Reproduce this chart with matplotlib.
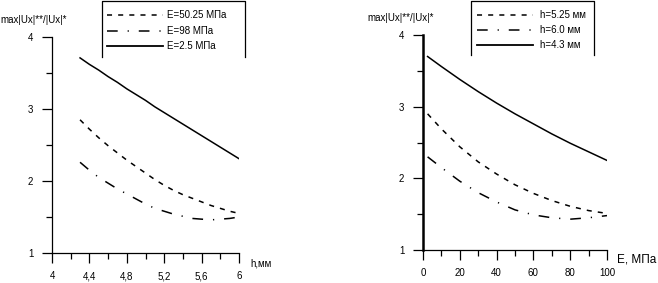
import matplotlib
matplotlib.use("Agg")
import matplotlib.pyplot as plt
from matplotlib.lines import Line2D
from matplotlib.ticker import MultipleLocator, FixedLocator

plt.rcParams['font.family'] = ['Liberation Sans', 'DejaVu Sans']

# ---- left chart data: ratio vs h (mm) ----
h_vals = [4.3, 4.4, 4.5, 4.6, 4.7, 4.8, 4.9, 5.0, 5.1, 5.2, 5.3, 5.4, 5.5, 5.6, 5.7, 5.8, 5.9, 6.0]
E50_vals = [2.85, 2.72, 2.60, 2.49, 2.39, 2.29, 2.20, 2.11, 2.02, 1.94, 1.87, 1.81, 1.76, 1.71, 1.66, 1.62, 1.58, 1.55]
E98_vals = [2.26, 2.15, 2.05, 1.97, 1.89, 1.82, 1.75, 1.68, 1.62, 1.58, 1.54, 1.51, 1.48, 1.47, 1.46, 1.47, 1.48, 1.50]
E2_vals = [3.71, 3.62, 3.54, 3.45, 3.37, 3.28, 3.20, 3.12, 3.03, 2.95, 2.87, 2.79, 2.71, 2.63, 2.55, 2.47, 2.39, 2.31]
left_labels = ["E=50.25 МПа", "E=98 МПа", "E=2.5 МПа"]
left_xticks = [4, 4.4, 4.8, 5.2, 5.6, 6]
left_xticklabels = ["4", "4,4", "4,8", "5,2", "5,6", "6"]

# ---- right chart data: ratio vs E (MPa) ----
E_vals = [2.5, 10, 20, 30, 40, 50, 60, 70, 80, 90, 100]
h525_vals = [2.90, 2.69, 2.44, 2.23, 2.06, 1.91, 1.79, 1.69, 1.61, 1.55, 1.51]
h60_vals = [2.30, 2.15, 1.96, 1.80, 1.67, 1.56, 1.49, 1.45, 1.43, 1.45, 1.48]
h43_vals = [3.70, 3.56, 3.38, 3.21, 3.05, 2.90, 2.76, 2.62, 2.49, 2.37, 2.25]
right_labels = ["h=5.25 мм", "h=6.0 мм", "h=4.3 мм"]
right_xticks = [0, 20, 40, 60, 80, 100]

yticks = [1, 2, 3, 4]
ylabel = "max|Ux|**/|Ux|*"

W, H = 658, 283
fig = plt.figure(figsize=(W / 100, H / 100), dpi=100)

LW = 1.1
dash = (0, (3.3, 4.0))
dashdot = (0, (7.0, 6.5, 0.8, 6.5))

def style_axes(ax, spine_w):
    for s in ['top', 'right']:
        ax.spines[s].set_visible(False)
    ax.spines['left'].set_linewidth(spine_w)
    ax.spines['bottom'].set_linewidth(0.9)
    ax.set_ylim(1, 4)
    ax.yaxis.set_major_locator(FixedLocator(yticks))
    ax.yaxis.set_minor_locator(FixedLocator([1.5, 2.5, 3.5]))
    ax.tick_params(axis='y', which='major', direction='out', length=7.5, width=0.9, labelsize=7, pad=6)
    ax.tick_params(axis='y', which='minor', direction='out', length=4.5, width=0.9)
    ax.tick_params(axis='x', which='major', direction='out', length=7, width=0.9, labelsize=7, pad=6)
    ax.tick_params(axis='x', which='minor', direction='out', length=4, width=0.9)
    ax.patch.set_alpha(0)

# left axes
ax1 = fig.add_axes([52 / W, 1 - 253 / H, (239 - 52) / W, (253 - 37) / H])
ax1.plot(h_vals, E50_vals, color='black', lw=LW, linestyle=dash)
ax1.plot(h_vals, E98_vals, color='black', lw=LW, linestyle=dashdot)
ax1.plot(h_vals, E2_vals, color='black', lw=LW, linestyle='-')
ax1.set_xlim(4, 6)
style_axes(ax1, 0.9)
ax1.xaxis.set_major_locator(FixedLocator(left_xticks))
ax1.set_xticklabels(left_xticklabels)
ax1.xaxis.set_minor_locator(MultipleLocator(0.2))
ax1.set_yticklabels([str(v) for v in yticks])
fig.text(0 / W, 1 - 20 / H, ylabel, fontsize=7, va='center', ha='left')
fig.text(250 / W, 1 - 263 / H, "h,мм", fontsize=7, va='center', ha='left')

# right axes
ax2 = fig.add_axes([423 / W, 1 - 250 / H, (607 - 423) / W, (250 - 35) / H])
ax2.plot(E_vals, h525_vals, color='black', lw=LW, linestyle=dash)
ax2.plot(E_vals, h60_vals, color='black', lw=LW, linestyle=dashdot)
ax2.plot(E_vals, h43_vals, color='black', lw=LW, linestyle='-')
ax2.set_xlim(0, 100)
style_axes(ax2, 1.8)
ax2.xaxis.set_major_locator(FixedLocator(right_xticks))
ax2.xaxis.set_minor_locator(MultipleLocator(10))
ax2.set_yticklabels([str(v) for v in yticks])
fig.text(367 / W, 1 - 18 / H, ylabel, fontsize=7, va='center', ha='left')
fig.text(617 / W, 1 - 259 / H, "E, МПа", fontsize=8.5, va='center', ha='left')

def make_legend(labels, x0, y0, x1, y1, sx0, sx1, tx, rows):
    # open-bottom box like the reference
    xs = [x0 / W, x0 / W, x1 / W, x1 / W]
    ys = [1 - y1 / H, 1 - y0 / H, 1 - y0 / H, 1 - y1 / H]
    fig.add_artist(Line2D(xs, ys, color='black', lw=0.9, transform=fig.transFigure))
    styles = [dash, dashdot, '-']
    for lab, st, ry in zip(labels, styles, rows):
        fig.add_artist(Line2D([sx0 / W, sx1 / W], [1 - ry / H, 1 - ry / H], color='black',
                              lw=LW if st != '-' else 1.3, linestyle=st, transform=fig.transFigure))
        fig.text(tx / W, 1 - ry / H, lab, fontsize=7, va='center', ha='left')

make_legend(left_labels, 101.5, 0.5, 244.5, 57, 107, 163, 167, [15, 31, 46])
make_legend(right_labels, 470.5, 0.5, 593.5, 55, 477, 533, 540, [15, 30, 45])

fig.savefig("out.png", dpi=100)
